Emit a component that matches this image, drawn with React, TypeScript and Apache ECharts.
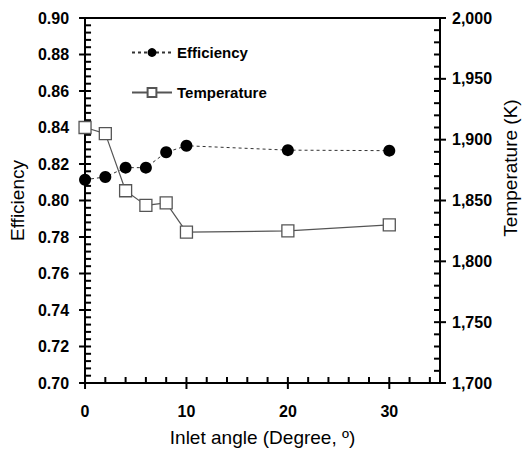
import React, { useEffect, useRef } from "react";
import * as echarts from "echarts";

const angles = [0, 2, 4, 6, 8, 10, 20, 30];
const efficiency = [0.8114, 0.8129, 0.818, 0.818, 0.8264, 0.830, 0.8276, 0.8273];
const temperature = [1910, 1905, 1858, 1846, 1848, 1824, 1825, 1830];
const seriesNames = ["Efficiency", "Temperature"];
const xTitle = "Inlet angle (Degree, º)";
const yLeftTitle = "Efficiency";
const yRightTitle = "Temperature (K)";

// axis ranges and tick steps
const xRange = [0, 35];
const xMajor = 10;
const xMinor = 2;
const yLeftRange = [0.7, 0.9];
const yLeftMajor = 0.02;
const yLeftMinor = 0.004;
const yRightRange = [1700, 2000];
const yRightMajor = 50;
const yRightMinor = 10;

const FONT = "'Liberation Sans Narrow', 'Arial Narrow', 'Liberation Sans', Arial, sans-serif";

function tickList(min: number, max: number, minor: number, major: number) {
  const out: number[][] = [];
  const n = Math.round((max - min) / minor);
  const per = Math.round(major / minor);
  for (let i = 0; i <= n; i++) {
    const v = +(min + i * minor).toFixed(6);
    if (v > max + 1e-9) break;
    out.push([v, i % per === 0 ? 1 : 0]);
  }
  return out;
}

export default function App() {
  const ref = useRef<HTMLDivElement>(null);
  useEffect(() => {
    if (!ref.current) return;
    const chart = echarts.init(ref.current, undefined, { renderer: "svg" });
    const labelStyle = { color: "#000", fontFamily: FONT, fontWeight: "bold" as const, fontSize: 16 };
    const mkLine = () => ({ show: true, onZero: false, lineStyle: { color: "#000", width: 2 } });
    const tickStyle = { stroke: "#000", lineWidth: 2 };
    const L = 6;

    const xTicks = tickList(xRange[0], xRange[1], xMinor, xMajor);
    const lTicks = tickList(yLeftRange[0], yLeftRange[1], yLeftMinor, yLeftMajor);
    const rTicks = tickList(yRightRange[0], yRightRange[1], yRightMinor, yRightMajor);

    const tickSeries = (
      data: number[][],
      yAxisIndex: number,
      draw: (p: number[], major: boolean) => any
    ) => ({
      type: "custom",
      xAxisIndex: 0,
      yAxisIndex,
      silent: true,
      clip: false,
      z: 1,
      encode: { x: 0, y: 1 },
      data,
      renderItem: (_params: any, api: any) => {
        const p = api.coord([api.value(0), api.value(1)]);
        return draw(p, api.value(2) === 1);
      },
    });

    chart.setOption({
      animation: false,
      grid: { left: 83, right: 91, top: 18, bottom: 69 },
      legend: {
        data: seriesNames,
        orient: "vertical",
        left: 126,
        top: 40,
        itemWidth: 40,
        itemHeight: 11,
        itemGap: 25,
        textStyle: { color: "#000", fontFamily: FONT, fontWeight: "bold", fontSize: 15 },
      },
      xAxis: [
        {
          type: "value",
          min: xRange[0],
          max: xRange[1],
          interval: xMajor,
          axisLine: mkLine(),
          axisTick: { show: false },
          splitLine: { show: false },
          axisLabel: { ...labelStyle, margin: 20, showMaxLabel: false },
          name: xTitle,
          nameLocation: "middle",
          nameGap: 45,
          nameTextStyle: { color: "#000", fontFamily: FONT, fontSize: 19 },
        },
        {
          type: "value",
          min: xRange[0],
          max: xRange[1],
          position: "top",
          axisLine: mkLine(),
          axisTick: { show: false },
          axisLabel: { show: false },
          splitLine: { show: false },
        },
      ],
      yAxis: [
        {
          type: "value",
          min: yLeftRange[0],
          max: yLeftRange[1],
          interval: yLeftMajor,
          position: "left",
          axisLine: mkLine(),
          axisTick: { show: false },
          splitLine: { show: false },
          axisLabel: { ...labelStyle, margin: 16, formatter: (v: number) => v.toFixed(2) },
          name: yLeftTitle,
          nameLocation: "middle",
          nameGap: 58,
          nameTextStyle: { color: "#000", fontFamily: FONT, fontSize: 19 },
        },
        {
          type: "value",
          min: yRightRange[0],
          max: yRightRange[1],
          interval: yRightMajor,
          position: "right",
          axisLine: mkLine(),
          axisTick: { show: false },
          splitLine: { show: false },
          axisLabel: {
            ...labelStyle,
            margin: 12,
            formatter: (v: number) => v.toLocaleString("en-US"),
          },
        },
      ],
      graphic: [
        {
          type: "text",
          x: 510,
          y: 168,
          rotation: Math.PI / 2,
          style: {
            text: yRightTitle,
            fill: "#000",
            font: `19px ${FONT}`,
            align: "center",
            verticalAlign: "middle",
          },
        },
      ],
      series: [
        {
          name: seriesNames[1],
          type: "line",
          xAxisIndex: 0,
          yAxisIndex: 1,
          data: angles.map((a, i) => [a, temperature[i]]),
          symbol: "rect",
          symbolSize: 12,
          showAllSymbol: true,
          clip: false,
          lineStyle: { color: "#555", width: 1.2, type: "solid" },
          itemStyle: { color: "#fff", borderColor: "#555", borderWidth: 1.3 },
          z: 3,
        },
        {
          name: seriesNames[0],
          type: "line",
          xAxisIndex: 0,
          yAxisIndex: 0,
          data: angles.map((a, i) => [a, efficiency[i]]),
          symbol: "circle",
          symbolSize: 12,
          showAllSymbol: true,
          clip: false,
          lineStyle: { color: "#333", width: 1, type: [3, 3] },
          itemStyle: { color: "#000", borderColor: "#000", borderWidth: 0 },
          z: 4,
        },
        tickSeries(
          xTicks.map(([v, m]) => [v, yLeftRange[0], m]),
          0,
          (p, major) => ({
            type: "line",
            shape: { x1: p[0], y1: p[1] + (major ? L : 0), x2: p[0], y2: p[1] - L },
            style: tickStyle,
          })
        ),
        tickSeries(
          lTicks.map(([v, m]) => [xRange[0], v, m]),
          0,
          (p, major) => ({
            type: "line",
            shape: { x1: p[0] - (major ? L : 0), y1: p[1], x2: p[0] + L, y2: p[1] },
            style: tickStyle,
          })
        ),
        tickSeries(
          rTicks.map(([v, m]) => [xRange[1], v, m]),
          1,
          (p, major) => ({
            type: "line",
            shape: { x1: p[0] + (major ? L : 0), y1: p[1], x2: p[0] - L, y2: p[1] },
            style: tickStyle,
          })
        ),
      ],
    });
    return () => chart.dispose();
  }, []);
  return <div ref={ref} style={{ width: 531, height: 452, position: "absolute", left: 0, top: 0, background: "#fff" }} />;
}
